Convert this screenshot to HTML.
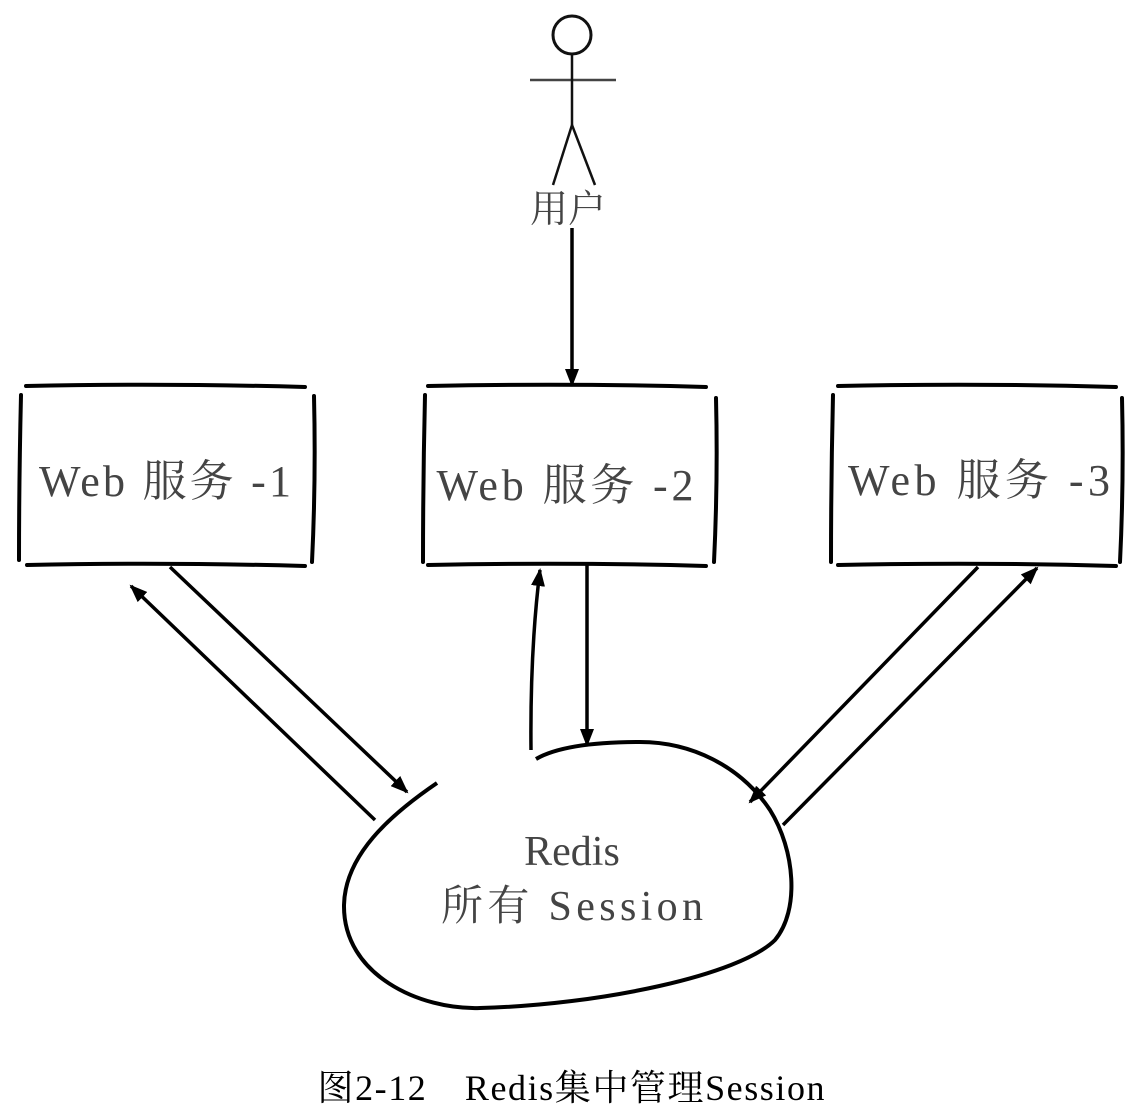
<!DOCTYPE html>
<html><head><meta charset="utf-8"><style>
html,body{margin:0;padding:0;background:#fff;}
svg{display:block;}
.t{font-family:"Liberation Serif","Noto Serif CJK SC",serif;fill:#444;}
</style></head><body>
<svg width="1144" height="1118" viewBox="0 0 1144 1118">
<defs>
<marker id="ah" markerWidth="18" markerHeight="14" refX="16" refY="7" orient="auto" markerUnits="userSpaceOnUse" viewBox="0 0 18 14">
<path d="M0,0 L18,7 L0,14 z" fill="#000"/>
</marker>
</defs>
<g stroke="#111" fill="none">
<circle cx="572" cy="35" r="19" stroke-width="3" fill="#fff"/>
<line x1="530" y1="80" x2="616" y2="80" stroke-width="2.5" stroke="#444"/>
<line x1="572" y1="54" x2="572" y2="125" stroke-width="2.5"/>
<line x1="572" y1="125" x2="553" y2="185" stroke-width="2.5"/>
<line x1="572" y1="125" x2="595" y2="185" stroke-width="2.5"/>
</g>
<text class="t" x="568" y="222" font-size="38" text-anchor="middle">用户</text>
<line x1="572" y1="228" x2="572" y2="385" stroke="#000" stroke-width="3.5" marker-end="url(#ah)"/>

<g stroke="#000" stroke-width="4" fill="none" stroke-linecap="round">
<path d="M26,386 Q160,383 305,387"/><path d="M27,565 Q160,562 305,566"/>
<path d="M21,395 Q19,480 19,560"/><path d="M314,396 Q316,480 312,562"/>
</g>
<text class="t" x="165" y="496" font-size="44" text-anchor="middle" textLength="252">Web 服务 -1</text>

<g stroke="#000" stroke-width="4" fill="none" stroke-linecap="round">
<path d="M428,386 Q570,383 706,387"/><path d="M428,565 Q570,562 706,566"/>
<path d="M425,395 Q423,480 423,562"/><path d="M716,398 Q718,480 714,562"/>
</g>
<text class="t" x="565" y="500" font-size="44" text-anchor="middle" textLength="257">Web 服务 -2</text>

<g stroke="#000" stroke-width="4" fill="none" stroke-linecap="round">
<path d="M838,386 Q980,383 1116,387"/><path d="M838,565 Q980,562 1116,566"/>
<path d="M833,395 Q831,480 831,562"/><path d="M1122,398 Q1124,480 1120,562"/>
</g>
<text class="t" x="979" y="495" font-size="44" text-anchor="middle" textLength="262">Web 服务 -3</text>

<g stroke="#000" stroke-width="3.5" fill="none">
<line x1="170" y1="567" x2="407" y2="792" marker-end="url(#ah)"/>
<line x1="375" y1="820" x2="131" y2="586" marker-end="url(#ah)"/>
<path d="M531,750 Q530,650 540,570" marker-end="url(#ah)"/>
<line x1="587" y1="565" x2="587" y2="745" marker-end="url(#ah)"/>
<line x1="978" y1="567" x2="750" y2="802" marker-end="url(#ah)"/>
<line x1="783" y1="825" x2="1037" y2="568" marker-end="url(#ah)"/>
</g>

<path d="M437,783 C390,815 345,855 344,905 C343,975 420,1010 480,1008 C600,1005 740,975 775,940 C800,910 795,850 770,810 C740,765 690,742 640,742 C590,742 555,748 536,759" stroke="#000" stroke-width="4" fill="none"/>
<text class="t" x="572" y="865" font-size="42" text-anchor="middle">Redis</text>
<text class="t" x="572" y="920" font-size="42" text-anchor="middle" textLength="262">所有 Session</text>

<text x="571" y="1100" font-size="36" text-anchor="middle" textLength="507" font-family="Liberation Serif, Noto Serif CJK SC, serif" fill="#000">图2-12　Redis集中管理Session</text>
</svg>
</body></html>
